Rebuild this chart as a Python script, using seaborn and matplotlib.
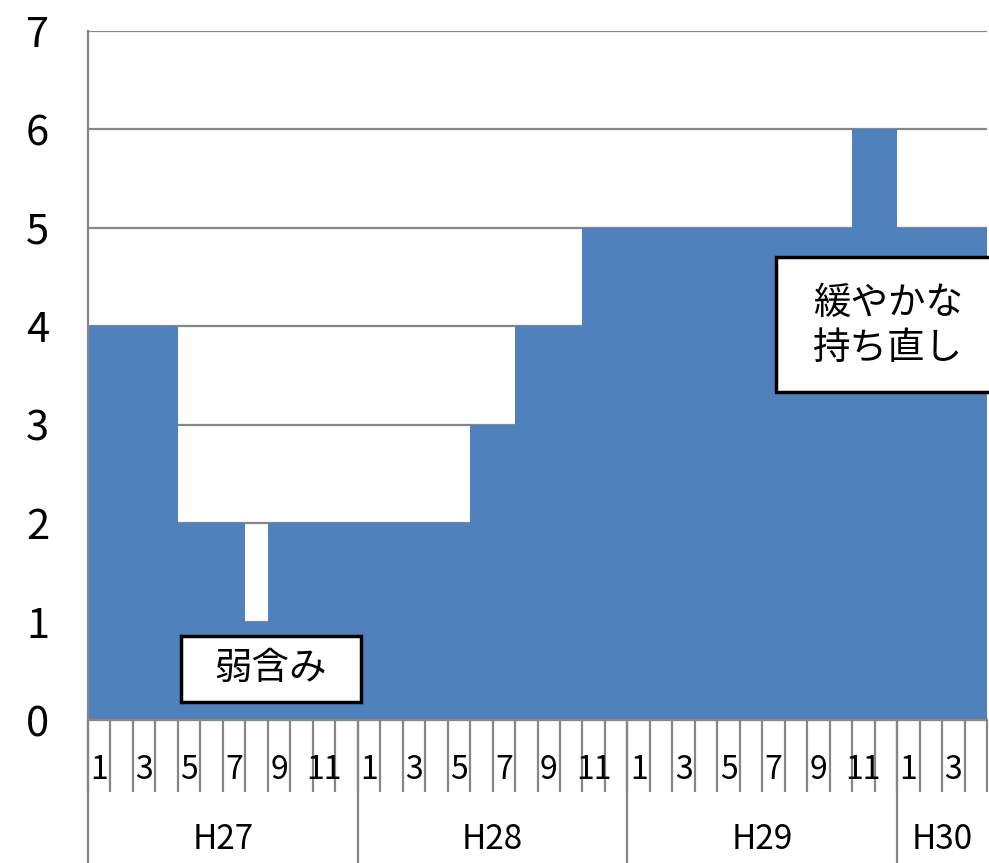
import matplotlib
matplotlib.use("Agg")
import matplotlib.pyplot as plt
import matplotlib.patches as patches
import matplotlib.transforms as mtransforms
import numpy as np
import pandas as pd
import seaborn as sns

# monthly values, H27/1 .. H30/4
years = ["H27", "H28", "H29", "H30"]
h27 = [4, 4, 4, 4, 2, 2, 2, 1, 2, 2, 2, 2]
h28 = [2, 2, 2, 2, 2, 3, 3, 4, 4, 4, 5, 5]
h29 = [5, 5, 5, 5, 5, 5, 5, 5, 5, 5, 6, 6]
h30 = [5, 5, 5, 5]
yticks = [0, 1, 2, 3, 4, 5, 6, 7]
note_weak = "弱含み"
note_recover = "緩やかな\n持ち直し"

sns.set_style("white")
plt.rcParams["font.family"] = ["Noto Sans CJK JP", "DejaVu Sans"]

rows = []
for yr, vals in zip(years, [h27, h28, h29, h30]):
    for m, v in enumerate(vals, start=1):
        rows.append({"year": yr, "month": m, "key": f"{yr}-{m}", "value": v})
df = pd.DataFrame(rows)
n = len(df)

BLUE = "#4F81BD"
GRID = "#868686"

fig = plt.figure(figsize=(9.89, 8.63), dpi=100)
ax = fig.add_axes([88 / 989, 143 / 863, 899 / 989, 689 / 863])

sns.barplot(data=df, x="key", y="value", order=df["key"].tolist(), color=BLUE,
            saturation=1, width=1.0, linewidth=0, ax=ax)

ax.set_xlim(-0.5, n - 0.5)
ax.set_ylim(0, 7)
ax.set_yticks(yticks)
ax.set_yticklabels([str(t) for t in yticks], fontsize=30, color="black")
ax.tick_params(axis="y", length=0, pad=28)
ax.set_axisbelow(True)
ax.yaxis.grid(True, color=GRID, linewidth=1.6)
ax.set_xlabel("")
ax.set_ylabel("")

for s in ["top", "right"]:
    ax.spines[s].set_visible(False)
for s in ["left", "bottom"]:
    ax.spines[s].set_color(GRID)
    ax.spines[s].set_linewidth(1.6)

# month ticks at every bar boundary
bounds = np.arange(n + 1) - 0.5
ax.set_xticks(bounds)
ax.set_xticklabels([])
ax.tick_params(axis="x", bottom=True, length=52, width=1.6, color=GRID,
               direction="out")

trans = mtransforms.blended_transform_factory(ax.transData, ax.transAxes)
for i, m in enumerate(df["month"]):
    if m % 2 == 1:
        ax.text(i, -0.072, str(m), transform=trans, ha="center", va="center",
                fontsize=23, color="black")

# year separators and labels
start = 0
for yr in years:
    cnt = (df["year"] == yr).sum()
    ax.plot([start - 0.5, start - 0.5], [0, -0.21], transform=trans,
            color=GRID, lw=1.6, clip_on=False)
    ax.text(start + (cnt - 1) / 2, -0.174, yr, transform=trans, ha="center",
            va="center", fontsize=24, color="black")
    start += cnt

# annotation boxes
ax.add_patch(patches.Rectangle((3.64, 0.18), 8.0, 0.675, facecolor="white",
                               edgecolor="black", lw=2.5, zorder=5))
ax.text(7.6, 0.52, note_weak, ha="center", va="center", fontsize=27,
        color="black", zorder=6)

ax.add_patch(patches.Rectangle((30.1, 3.33), 10.5, 1.37, facecolor="white",
                               edgecolor="black", lw=2.5, zorder=5, clip_on=False))
ax.text(35.1, 4.0, note_recover, ha="center", va="center", fontsize=27,
        color="black", linespacing=1.2, zorder=6)

fig.savefig("out.png", dpi=100)
